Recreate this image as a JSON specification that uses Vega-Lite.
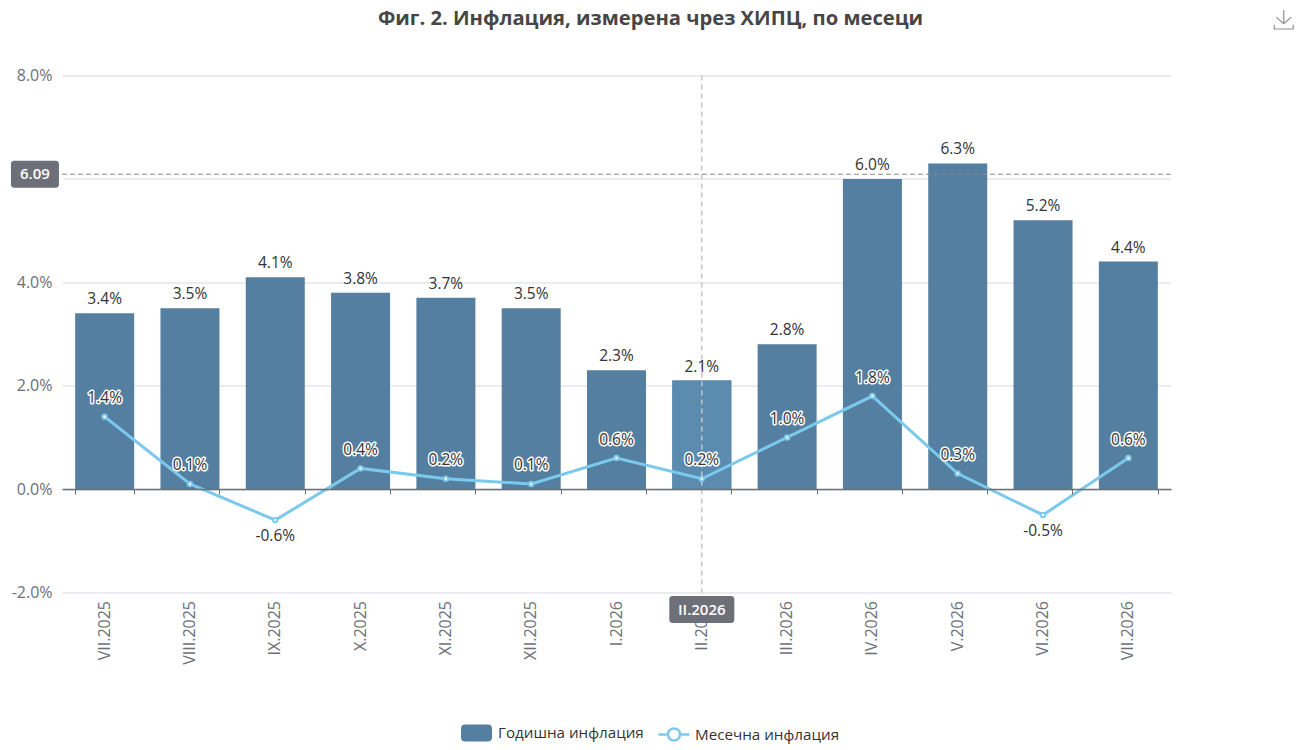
{
  "$schema": "https://vega.github.io/schema/vega-lite/v6.json",
  "autosize": {"type": "none"},
  "padding": {"left": 62, "top": 75.5, "right": 130, "bottom": 157.5},
  "width": 1109,
  "height": 517,
  "background": "#ffffff",
  "title": {
    "text": "Фиг. 2. Инфлация, измерена чрез ХИПЦ, по месеци",
    "font": "Open Sans",
    "fontSize": 20.2,
    "fontWeight": "bold",
    "color": "#464646",
    "anchor": "middle",
    "dx": 34,
    "offset": -22
  },
  "config": {
    "font": "Open Sans",
    "view": {"stroke": null},
    "locale": {"number": {"decimal": ".", "thousands": ",", "grouping": [3], "currency": ["$", ""], "minus": "-"}}
  },
  "data": {
    "values": [
      {"month": "VII.2025", "yearly": 0.034, "monthly": 0.014},
      {"month": "VIII.2025", "yearly": 0.035, "monthly": 0.001},
      {"month": "IX.2025", "yearly": 0.041, "monthly": -0.006},
      {"month": "X.2025", "yearly": 0.038, "monthly": 0.004},
      {"month": "XI.2025", "yearly": 0.037, "monthly": 0.002},
      {"month": "XII.2025", "yearly": 0.035, "monthly": 0.001},
      {"month": "I.2026", "yearly": 0.023, "monthly": 0.006},
      {"month": "II.2026", "yearly": 0.021, "monthly": 0.002},
      {"month": "III.2026", "yearly": 0.028, "monthly": 0.01},
      {"month": "IV.2026", "yearly": 0.06, "monthly": 0.018},
      {"month": "V.2026", "yearly": 0.063, "monthly": 0.003},
      {"month": "VI.2026", "yearly": 0.052, "monthly": -0.005},
      {"month": "VII.2026", "yearly": 0.044, "monthly": 0.006}
    ]
  },
  "resolve": {"axis": {"x": "independent"}, "scale": {"fill": "independent", "stroke": "independent"}},
  "layer": [
    {
      "mark": {"type": "bar", "width": 59},
      "encoding": {
        "x": {
          "field": "month", "type": "nominal",
          "scale": {
            "domain": ["VII.2025", "VIII.2025", "IX.2025", "X.2025", "XI.2025", "XII.2025", "I.2026", "II.2026", "III.2026", "IV.2026", "V.2026", "VI.2026", "VII.2026"],
            "paddingInner": 0.31, "paddingOuter": 0.155
          },
          "axis": {
            "title": null, "domain": false, "ticks": false, "grid": false,
            "labelAngle": 270, "labelAlign": "right", "labelBaseline": "middle",
            "labelColor": "#6E7079", "labelFontSize": 16, "labelPadding": 8, "labelFont": "Open Sans"
          }
        },
        "y": {
          "field": "yearly", "type": "quantitative",
          "scale": {"domain": [-0.02, 0.08], "nice": false, "zero": false},
          "axis": {
            "title": null, "domain": false, "ticks": false,
            "values": [-0.02, 0, 0.02, 0.04, 0.06, 0.08],
            "labelExpr": "abs(datum.value - 0.06) < 0.000001 ? '' : format(datum.value, '.1%')",
            "grid": true, "gridColor": "#E4E6EE", "gridWidth": 1.5,
            "labelColor": "#6E7079", "labelFontSize": 16, "labelPadding": 10, "labelFont": "Open Sans"
          }
        },
        "y2": {"datum": 0},
        "fill": {
          "datum": "Годишна инфлация",
          "scale": {"range": ["#547FA0"]},
          "legend": {
            "title": null, "orient": "none", "legendX": 399, "legendY": 642,
            "symbolType": "M-0.72,-0.55H0.72Q1,-0.55 1,-0.27V0.27Q1,0.55 0.72,0.55H-0.72Q-1,0.55 -1,0.27V-0.27Q-1,-0.55 -0.72,-0.55Z",
            "symbolSize": 961, "symbolStrokeWidth": 0,
            "labelFontSize": 15.2, "labelColor": "#333333", "labelFont": "Open Sans", "labelOffset": 6
          }
        }
      }
    },
    {
      "transform": [{"filter": "datum.month === 'II.2026'"}],
      "mark": {"type": "bar", "width": 59, "fill": "#5B8BAE"},
      "encoding": {
        "x": {"field": "month", "type": "nominal", "axis": null},
        "y": {"field": "yearly", "type": "quantitative"},
        "y2": {"datum": 0}
      }
    },
    {
      "mark": {"type": "rule", "color": "#6E7079", "opacity": 0},
      "encoding": {
        "x": {
          "field": "month", "type": "nominal",
          "axis": {
            "title": null, "orient": "bottom", "offset": -103.5, "labels": false, "grid": false,
            "domain": true, "domainColor": "#6E7079", "domainWidth": 1.5,
            "ticks": true, "tickBand": "extent", "tickColor": "#6E7079", "tickSize": 5, "tickWidth": 1,
            "zindex": 1
          }
        },
        "y": {"field": "yearly", "type": "quantitative"}
      }
    },
    {
      "data": {"values": [{"month": "II.2026"}]},
      "mark": {"type": "rule", "color": "#C4C4C8", "strokeWidth": 1.5, "strokeDash": [5, 4]},
      "encoding": {
        "x": {"field": "month", "type": "nominal", "axis": null}
      }
    },
    {
      "data": {"values": [{"level": 0.0609}]},
      "mark": {"type": "rule", "color": "#8A8A8F", "strokeWidth": 1.2, "strokeDash": [5, 3]},
      "encoding": {
        "y": {"field": "level", "type": "quantitative"}
      }
    },
    {
      "mark": {"type": "line", "strokeWidth": 3, "fill": null},
      "encoding": {
        "x": {"field": "month", "type": "nominal", "axis": null, "sort": null},
        "y": {"field": "monthly", "type": "quantitative"},
        "stroke": {
          "datum": "Месечна инфлация",
          "scale": {"range": ["#7CC9EE"]},
          "legend": {
            "title": null, "orient": "none", "legendX": 595, "legendY": 642,
            "symbolType": "M-1,0H-0.39A0.39,0.39 0 1 1 0.39,0A0.39,0.39 0 1 1 -0.39,0M0.39,0H1",
            "symbolSize": 961, "symbolStrokeWidth": 2.5, "symbolFillColor": "#ffffff",
            "labelFontSize": 15.2, "labelColor": "#333333", "labelFont": "Open Sans", "labelOffset": 4
          }
        }
      }
    },
    {
      "mark": {"type": "point", "shape": "circle", "filled": true, "fill": "#ffffff", "stroke": "#7CC9EE", "strokeWidth": 2, "size": 20, "opacity": 1},
      "encoding": {
        "x": {"field": "month", "type": "nominal", "axis": null},
        "y": {"field": "monthly", "type": "quantitative"}
      }
    },
    {
      "mark": {"type": "text", "dy": -6, "fontSize": 15.5, "color": "#333333", "baseline": "bottom"},
      "encoding": {
        "x": {"field": "month", "type": "nominal", "axis": null},
        "y": {"field": "yearly", "type": "quantitative"},
        "text": {"field": "yearly", "type": "quantitative", "format": ".1%"}
      }
    },
    {
      "transform": [{"filter": "datum.monthly >= 0"}],
      "mark": {"type": "text", "dy": -18.5, "fontSize": 15.5, "color": "#ffffff", "stroke": "#ffffff", "strokeWidth": 3, "strokeJoin": "round"},
      "encoding": {
        "x": {"field": "month", "type": "nominal", "axis": null},
        "y": {"field": "monthly", "type": "quantitative"},
        "text": {"field": "monthly", "type": "quantitative", "format": ".1%"}
      }
    },
    {
      "transform": [{"filter": "datum.monthly >= 0"}],
      "mark": {"type": "text", "dy": -18.5, "fontSize": 15.5, "color": "#333333"},
      "encoding": {
        "x": {"field": "month", "type": "nominal", "axis": null},
        "y": {"field": "monthly", "type": "quantitative"},
        "text": {"field": "monthly", "type": "quantitative", "format": ".1%"}
      }
    },
    {
      "transform": [{"filter": "datum.monthly < 0"}],
      "mark": {"type": "text", "dy": 16, "fontSize": 15.5, "color": "#333333"},
      "encoding": {
        "x": {"field": "month", "type": "nominal", "axis": null},
        "y": {"field": "monthly", "type": "quantitative"},
        "text": {"field": "monthly", "type": "quantitative", "format": ".1%"}
      }
    },
    {
      "data": {"values": [{"month": "VII.2025", "level": 0.0609, "tag": "6.09"}]},
      "mark": {"type": "rect", "width": 48, "height": 27, "cornerRadius": 3, "fill": "#6E7079", "xOffset": -69.7, "yOffset": 0},
      "encoding": {
        "x": {"field": "month", "type": "nominal", "axis": null},
        "y": {"field": "level", "type": "quantitative"}
      }
    },
    {
      "data": {"values": [{"month": "VII.2025", "level": 0.0609, "tag": "6.09"}]},
      "mark": {"type": "text", "fontSize": 15, "fontWeight": 600, "color": "#ffffff", "dx": -69.7},
      "encoding": {
        "x": {"field": "month", "type": "nominal", "axis": null},
        "y": {"field": "level", "type": "quantitative"},
        "text": {"field": "tag"}
      }
    },
    {
      "data": {"values": [{"month": "II.2026", "level": -0.02, "tag": "II.2026"}]},
      "mark": {"type": "rect", "width": 65, "height": 27, "cornerRadius": 3, "fill": "#6E7079", "yOffset": 17},
      "encoding": {
        "x": {"field": "month", "type": "nominal", "axis": null},
        "y": {"field": "level", "type": "quantitative"}
      }
    },
    {
      "data": {"values": [{"month": "II.2026", "level": -0.02, "tag": "II.2026"}]},
      "mark": {"type": "text", "fontSize": 15, "fontWeight": 600, "color": "#ffffff", "dy": 17},
      "encoding": {
        "x": {"field": "month", "type": "nominal", "axis": null},
        "y": {"field": "level", "type": "quantitative"},
        "text": {"field": "tag"}
      }
    },
    {
      "data": {"values": [{"month": "VII.2026", "level": 0.08}]},
      "mark": {
        "type": "point", "filled": false, "stroke": "#8E8E8E", "strokeWidth": 1.2, "opacity": 1, "size": 361,
        "shape": "M0,-1V0.45M-0.8,-0.25L0,0.45L0.8,-0.25M-1,0.55V1H1V0.55",
        "xOffset": 155.4, "yOffset": -56
      },
      "encoding": {
        "x": {"field": "month", "type": "nominal", "axis": null},
        "y": {"field": "level", "type": "quantitative"}
      }
    }
  ]
}
